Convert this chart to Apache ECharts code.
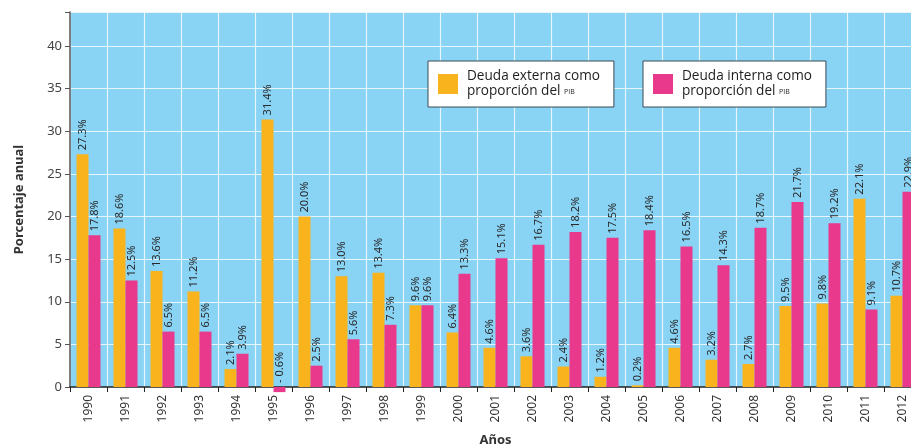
<!DOCTYPE html>
<html><head><meta charset="utf-8">
<script src="https://cdn.jsdelivr.net/npm/echarts@6/dist/echarts.min.js"></script>
<style>html,body{margin:0;padding:0;background:#fff}#c{width:911px;height:447px}</style>
</head><body><div id="c"></div>
<script>
const years = ['1990','1991','1992','1993','1994','1995','1996','1997','1998','1999','2000','2001','2002','2003','2004','2005','2006','2007','2008','2009','2010','2011','2012'];
const externa = [27.3,18.6,13.6,11.2,2.1,31.4,20.0,13.0,13.4,9.6,6.4,4.6,3.6,2.4,1.2,0.2,4.6,3.2,2.7,9.5,9.8,22.1,10.7];
const interna = [17.8,12.5,6.5,6.5,3.9,-0.6,2.5,5.6,7.3,9.6,13.3,15.1,16.7,18.2,17.5,18.4,16.5,14.3,18.7,21.7,19.2,9.1,22.9];
const yTicks = [0,5,10,15,20,25,30,35,40];
const nameExt = 'Deuda externa como';
const nameInt = 'Deuda interna como';
const nameTail = 'proporción del ';

const FONT = 'Noto Sans';
const fmtPct = v => (v < 0 ? '- ' + Math.abs(v).toFixed(1) : v.toFixed(1)) + '%';
const labelCfg = {
  show: true, position: 'top', rotate: 90, distance: 4, align: 'left', verticalAlign: 'middle',
  fontFamily: FONT, fontSize: 11, color: '#2a2a2a',
  formatter: p => fmtPct(p.value)
};
const legendBase = {
  top: 61, orient: 'vertical', icon: 'rect', itemWidth: 20, itemHeight: 20, itemGap: 0,
  backgroundColor: '#fff', borderColor: '#3a4a55', borderWidth: 1, borderRadius: 0,
  padding: [8, 14, 8, 10],
  textStyle: {
    fontFamily: 'Open Sans', fontSize: 13.6, color: '#1e1e1e', lineHeight: 15, padding: [0, 0, 0, 4],
    rich: { a: { fontFamily: 'Open Sans', fontSize: 13.6, color: '#1e1e1e', lineHeight: 15 },
            s: { fontFamily: 'Open Sans', fontSize: 7, color: '#1e1e1e', lineHeight: 15 } }
  },
  formatter: n => '{a|' + n + '}\n{a|' + nameTail + '}{s|PIB}'
};
const chart = echarts.init(document.getElementById('c'));
chart.setOption({
  animation: false,
  textStyle: { fontFamily: FONT },
  grid: { left: 70, top: 12, width: 851, height: 375, outerBoundsMode: 'none', containLabel: false,
          show: true, backgroundColor: '#89d3f5', borderWidth: 0 },
  legend: [
    Object.assign({}, legendBase, { left: 428, data: [nameExt] }),
    Object.assign({}, legendBase, { left: 643, data: [nameInt] })
  ],
  xAxis: {
    type: 'category', data: years, boundaryGap: true,
    name: 'Años', nameLocation: 'middle', nameGap: 47,
    nameTextStyle: { fontFamily: FONT, fontSize: 13, fontWeight: 'bold', color: '#333' },
    axisLine: { show: true, onZero: false, lineStyle: { color: '#222', width: 1.5 } },
    axisTick: { show: true, alignWithLabel: false, length: 5, lineStyle: { color: '#222' } },
    axisLabel: { rotate: 90, fontFamily: FONT, fontSize: 12, color: '#333', margin: 8, interval: 0 },
    splitLine: { show: true, interval: 0, lineStyle: { color: '#ffffff', width: 1.2, opacity: 0.8 } }
  },
  yAxis: {
    type: 'value', min: 0, max: 44, interval: 5,
    name: 'Porcentaje anual', nameLocation: 'middle', nameGap: 44, nameRotate: 90,
    nameTextStyle: { fontFamily: FONT, fontSize: 13, fontWeight: 'bold', color: '#333' },
    axisLine: { show: true, lineStyle: { color: '#555', width: 1.5 } },
    axisTick: { show: true, length: 5, lineStyle: { color: '#555' } },
    axisLabel: { fontFamily: FONT, fontSize: 13, color: '#444', margin: 8,
      formatter: v => yTicks.indexOf(v) >= 0 ? String(v) : '' },
    splitLine: { show: true, lineStyle: { color: '#ffffff', width: 1.2, opacity: 0.8 } }
  },
  series: [
    { name: nameExt, type: 'bar', data: externa, barWidth: 12, barGap: '0%', clip: false,
      itemStyle: { color: '#f9b31c' }, label: labelCfg },
    { name: nameInt, type: 'bar', data: interna, barWidth: 12, barGap: '0%', clip: false,
      itemStyle: { color: '#e9398d' }, label: labelCfg }
  ]
});
</script></body></html>
